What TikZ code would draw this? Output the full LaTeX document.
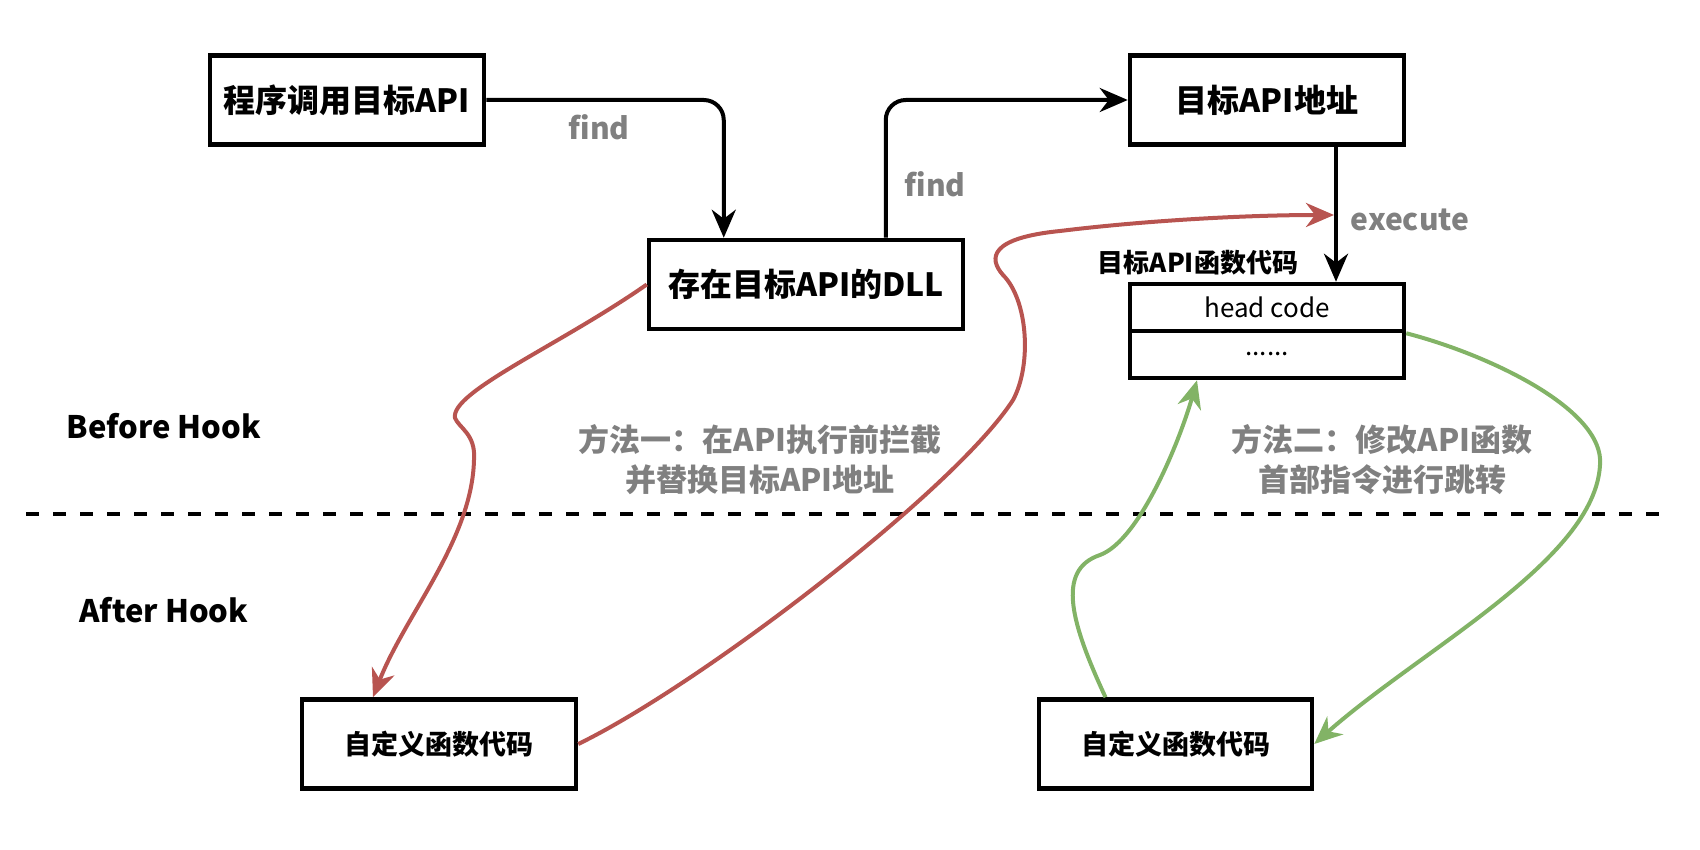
\documentclass[tikz,border=0pt]{standalone}
\usepackage{fontspec}
\setmainfont{Noto Sans CJK SC}
\usetikzlibrary{arrows.meta}
\definecolor{hred}{HTML}{B85450}
\definecolor{hgreen}{HTML}{82B366}
\definecolor{hgray}{HTML}{808080}
\begin{document}
\begin{tikzpicture}[x=1pt,y=-1pt,
  box/.style={draw=black, line width=4.5pt, minimum width=274pt, minimum height=89pt, inner sep=0pt,
    font=\fontsize{32}{38}\selectfont\bfseries},
  cell/.style={draw=black, line width=4.5pt, minimum width=274pt, minimum height=47pt, inner sep=0pt,
    font=\fontsize{26}{31}\selectfont},
  smallbox/.style={box, font=\fontsize{27}{32}\selectfont\bfseries},
  tip/.style={-{Stealth[length=28pt,width=24pt,inset=9pt]}},
  blk/.style={tip, draw=black, line width=4pt, rounded corners=20pt},
  redc/.style={tip, draw=hred, line width=4pt},
  greenc/.style={tip, draw=hgreen, line width=4pt},
  lbl/.style={text=hgray, font=\fontsize{30}{36}\selectfont\bfseries, inner sep=0pt},
  note/.style={text=hgray, align=center, font=\fontsize{31}{40}\selectfont\bfseries, inner sep=0pt},
  phase/.style={text=black, font=\fontsize{31}{37}\selectfont\bfseries, inner sep=0pt}
]
\useasboundingbox (0,0) rectangle (1700,850);

% boxes
\node[box] (A) at (347,100) {程序调用目标API};
\node[box, minimum width=314pt] (B) at (806,284.5) {存在目标API的DLL};
\node[box] (C) at (1267,100) {目标API地址};
\node[cell] (Dtop) at (1267,307.5) {head code};
\node[cell] (Dbot) at (1267,354.5) {......};
\node[text=black, font=\fontsize{26}{31}\selectfont\bfseries, inner sep=0pt] (Dlbl) at (1198,263) {目标API函数代码};
\node[smallbox] (E1) at (439,744) {自定义函数代码};
\node[smallbox, minimum width=273pt] (E2) at (1175.5,744) {自定义函数代码};

% labels
\node[lbl] (f1) at (599,127) {find};
\node[lbl] (f2) at (935,184) {find};
\node[lbl] (ex) at (1410,220) {execute};
\node[phase] (before) at (164,426) {Before Hook};
\node[phase] (after) at (164,610) {After Hook};
\node[note] (m1) at (760,460) {方法一：在API执行前拦截\\并替换目标API地址};
\node[note] (m2) at (1382,460) {方法二：修改API函数\\首部指令进行跳转};

% separator
\coordinate (dl) at (26,514);
\coordinate (dr) at (1666,514);
\draw[line width=4.5pt, dash pattern=on 13pt off 14pt] (dl) -- (dr);

% black flow
\draw[blk] (A.east) -| ([xshift=77pt]B.north west);
\draw[blk] ([xshift=239pt]B.north west) |- (C.west);
\draw[blk] ([xshift=69pt]C.south) -- ([xshift=69pt]Dtop.north);

% method 1 (red)
\coordinate (rtip) at (1334,215);
\draw[redc] (B.west) .. controls (560,345) and (450,392) .. (455,418)
  .. controls (459,428) and (476,434) .. (474,460)
  .. controls (472,540) and (405,615) .. ([xshift=-66pt]E1.north);
\draw[redc] (E1.east) .. controls (700,685) and (955,490) .. (1013,400)
  .. controls (1032,365) and (1028,300) .. (1003,275)
  .. controls (988,258) and (990,238) .. (1060,231)
  .. controls (1150,220) and (1250,215) .. (rtip);

% method 2 (green)
\draw[greenc] ([xshift=-70pt]E2.north) .. controls (1072,625) and (1055,570) .. (1100,555)
  .. controls (1140,540) and (1180,440) .. ([xshift=-70pt]Dbot.south);
\draw[greenc] (Dtop.south east) .. controls (1490,355) and (1605,410) .. (1600,465)
  .. controls (1595,560) and (1420,650) .. (E2.east);
\end{tikzpicture}
\end{document}
